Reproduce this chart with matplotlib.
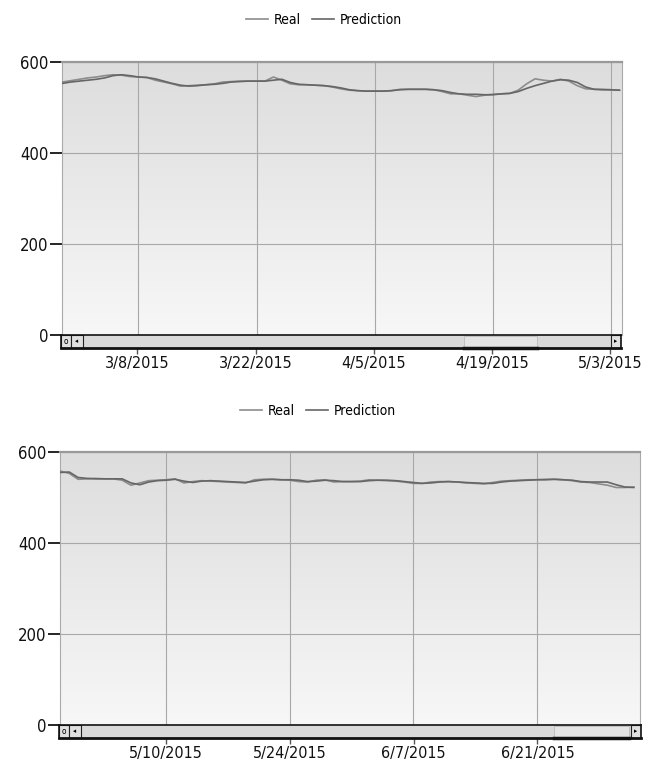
import numpy as np
import matplotlib
matplotlib.use("Agg")
import matplotlib.pyplot as plt
import matplotlib.dates as mdates
from matplotlib.patches import Rectangle
from matplotlib.colors import LinearSegmentedColormap
import datetime as dt

plt.rcParams['font.family'] = ['DejaVu Sans']
plt.rcParams['font.stretch'] = 'condensed'

# ---------------- data ----------------
top_start = "2015-02-27"
top_real = [556, 559, 562, 565, 567, 570, 572, 571, 568, 567, 566, 560, 556, 552, 547, 548,
            549, 550, 552, 556, 557, 558, 558, 558, 558, 567, 560, 552, 550, 550, 549, 548,
            545, 541, 538, 537, 536, 536, 536, 537, 540, 540, 540, 540, 539, 535, 530, 530,
            527, 524, 527, 529, 530, 531, 538, 552, 563, 560, 558, 562, 558, 548, 541, 540,
            540, 539, 538]
top_pred = [553, 556, 558, 560, 562, 565, 570, 572, 570, 567, 566, 563, 558, 553, 549, 547,
            548, 550, 551, 553, 556, 557, 558, 558, 558, 560, 562, 555, 551, 550, 549, 548,
            546, 543, 539, 537, 536, 536, 536, 537, 539, 540, 540, 540, 539, 537, 533, 530,
            529, 529, 528, 528, 530, 531, 535, 542, 548, 553, 558, 561, 560, 555, 545, 540,
            539, 539, 538]
top_ticks = ["2015-03-08", "2015-03-22", "2015-04-05", "2015-04-19", "2015-05-03"]
top_ticklabels = ["3/8/2015", "3/22/2015", "4/5/2015", "4/19/2015", "5/3/2015"]

bot_start = "2015-04-28"
bot_real = [558, 553, 540, 541, 542, 541, 541, 538, 527, 532, 537, 538, 539, 541, 532, 535,
            537, 536, 535, 534, 533, 532, 539, 540, 540, 539, 538, 535, 534, 538, 539, 534,
            535, 535, 536, 539, 538, 537, 536, 534, 531, 531, 534, 535, 535, 534, 532, 531,
            530, 533, 536, 537, 538, 539, 539, 540, 540, 539, 537, 534, 533, 530, 527, 522,
            522, 523]
bot_pred = [555, 556, 544, 542, 541, 541, 541, 541, 532, 528, 534, 537, 538, 540, 536, 533,
            536, 537, 536, 535, 534, 533, 536, 539, 540, 539, 539, 538, 535, 536, 538, 537,
            535, 535, 535, 537, 538, 538, 537, 535, 533, 531, 532, 534, 535, 534, 533, 532,
            531, 531, 534, 536, 537, 538, 539, 539, 540, 539, 538, 535, 534, 534, 534, 528,
            523, 522]
bot_ticks = ["2015-05-10", "2015-05-24", "2015-06-07", "2015-06-21"]
bot_ticklabels = ["5/10/2015", "5/24/2015", "6/7/2015", "6/21/2015"]

y_ticks = [0, 200, 400, 600]
series_names = ["Real", "Prediction"]
# --------------------------------------

W, H = 660, 765
fig = plt.figure(figsize=(W / 100, H / 100), dpi=100)
fig.patch.set_facecolor("white")

REAL_C = "#8c8c8c"
PRED_C = "#666666"

grad = np.linspace(0, 1, 256).reshape(-1, 1)
gcmap = LinearSegmentedColormap.from_list("g", ["#f7f7f7", "#dddddd"])


def px_ax(x0, x1, ytop, ybot):
    return [x0 / W, 1 - ybot / H, (x1 - x0) / W, (ybot - ytop) / H]


def panel(start, real, pred, ticks, ticklabels, box, sbox, thumb, legend_xy, xmax_extra):
    d0 = np.datetime64(start)
    dates = d0 + np.arange(len(real)).astype("timedelta64[D]")
    dates = dates.astype("datetime64[D]").astype(dt.datetime)
    ax = fig.add_axes(box)
    ax.imshow(grad, aspect="auto", cmap=gcmap, extent=[0, 1, 0, 1],
              transform=ax.transAxes, zorder=0, origin="lower")
    l1, = ax.plot(dates, real, color=REAL_C, lw=1.2, zorder=3, label=series_names[0])
    l2, = ax.plot(dates, pred, color=PRED_C, lw=1.2, zorder=3, label=series_names[1])
    xmin = mdates.date2num(dates[0]) - 0.05
    xmax = mdates.date2num(dates[-1]) + xmax_extra
    ax.set_xlim(xmin, xmax)
    ax.set_ylim(0, 600)
    tnums = [mdates.date2num(dt.datetime.strptime(t, "%Y-%m-%d")) for t in ticks]
    ax.set_xticks(tnums)
    ax.set_xticklabels([])
    ax.tick_params(axis="x", length=0)
    ax.set_yticks(y_ticks)
    ax.set_yticklabels([str(v) for v in y_ticks], fontsize=12, color="#111111")
    ax.tick_params(axis="y", length=9, width=1.2, color="black", pad=0.5)
    ax.grid(True, color="#a8a8a8", lw=0.8, zorder=1)
    for s in ["left", "right", "bottom"]:
        ax.spines[s].set_color("#aaaaaa")
        ax.spines[s].set_linewidth(0.8)
    ax.spines["top"].set_color("#999999")
    ax.spines["top"].set_linewidth(1.6)

    # scrollbar
    sb = fig.add_axes(sbox)
    sb.set_facecolor("#d9d9d9")
    sb.set_xlim(xmin, xmax)
    sb.set_ylim(0, 1)
    sb.set_yticks([])
    sb.set_xticks(tnums)
    sb.set_xticklabels(ticklabels, fontsize=11.5, color="#111111")
    sb.tick_params(axis="x", length=4, width=1, color="#555555", pad=1.5)
    for s in sb.spines.values():
        s.set_color("#111111")
        s.set_linewidth(1.2)
    sb.spines["bottom"].set_linewidth(2.0)
    bw = 10 / (sbox[2] * W)
    sb.add_patch(Rectangle((0, 0), bw, 1, transform=sb.transAxes, fc="#e0e0e0", ec="#222222", lw=0.8))
    sb.text(bw / 2, 0.5, "o", transform=sb.transAxes, ha="center", va="center", fontsize=6)
    sb.add_patch(Rectangle((bw, 0), bw * 1.2, 1, transform=sb.transAxes, fc="#e0e0e0", ec="#222222", lw=0.8))
    sb.text(bw * 1.6, 0.5, "◂", transform=sb.transAxes, ha="center", va="center", fontsize=5)
    sb.add_patch(Rectangle((1 - bw, 0), bw, 1, transform=sb.transAxes, fc="#e0e0e0", ec="#222222", lw=0.8))
    sb.text(1 - bw / 2, 0.5, "▸", transform=sb.transAxes, ha="center", va="center", fontsize=5)
    sb.add_patch(Rectangle((thumb[0], 0.05), thumb[1] - thumb[0], 0.9, transform=sb.transAxes,
                           fc="#e4e4e4", ec="#bbbbbb", lw=0.6))
    sb.plot([thumb[0], thumb[1]], [0.02, 0.02], transform=sb.transAxes, color="#111111", lw=2.5,
            clip_on=False)

    fig.legend(handles=[l1, l2], loc="center", bbox_to_anchor=legend_xy, ncol=2, frameon=False,
               handlelength=1.6, handletextpad=0.4, columnspacing=0.8,
               prop={"size": 10, "stretch": "condensed"})
    return ax


panel(top_start, top_real, top_pred, top_ticks, top_ticklabels,
      px_ax(62, 622, 62, 335), px_ax(61, 621, 335, 348), (0.72, 0.85),
      (324 / W, 1 - 20 / H), 0.3)
panel(bot_start, bot_real, bot_pred, bot_ticks, bot_ticklabels,
      px_ax(60, 640, 452, 725), px_ax(59, 641, 725, 738), (0.85, 0.98),
      (318 / W, 1 - 411 / H), 0.7)

fig.savefig("out.png", dpi=100, facecolor=fig.get_facecolor())
